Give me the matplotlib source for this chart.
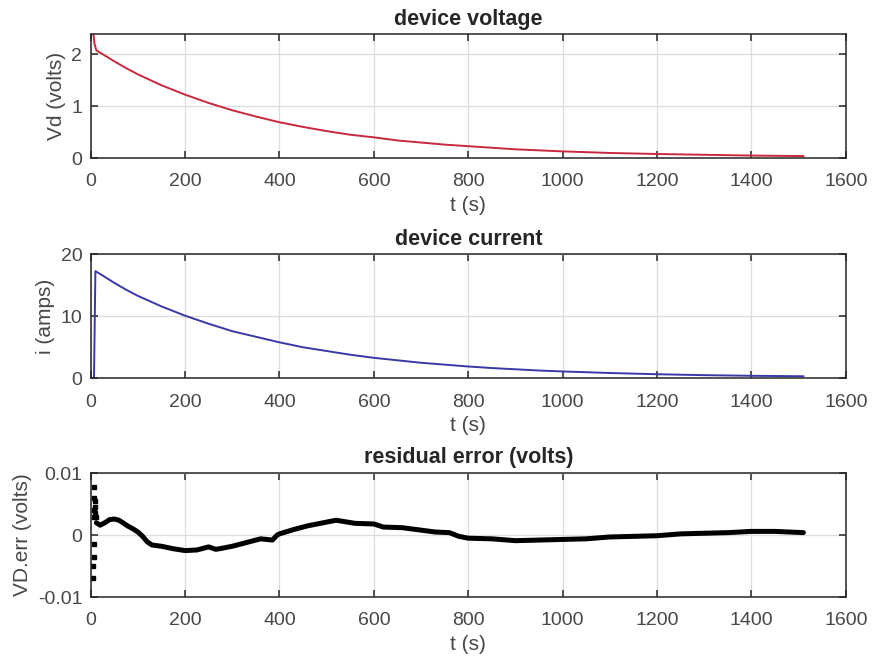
import matplotlib
matplotlib.use('Agg')
import matplotlib.pyplot as plt

##########
# Data
##########

t_v = [3, 5, 8, 12, 25, 50, 75, 100, 150, 200, 250, 300, 350, 400, 450, 500,
       550, 600, 650, 700, 750, 800, 850, 900, 950, 1000, 1100, 1200, 1300,
       1400, 1510]
vd = [2.6, 2.45, 2.2, 2.07, 2.00, 1.86, 1.73, 1.61, 1.40, 1.22, 1.06, 0.92,
      0.80, 0.69, 0.60, 0.52, 0.45, 0.40, 0.34, 0.30, 0.26, 0.23, 0.20, 0.17,
      0.15, 0.13, 0.10, 0.08, 0.065, 0.05, 0.04]

t_i = [0, 7, 10, 25, 50, 75, 100, 150, 200, 250, 300, 350, 400, 450, 500,
       550, 600, 650, 700, 750, 800, 850, 900, 950, 1000, 1100, 1200, 1300,
       1400, 1510]
cur = [0, 0, 17.3, 16.6, 15.4, 14.3, 13.3, 11.6, 10.1, 8.8, 7.6, 6.7, 5.8,
       5.0, 4.4, 3.8, 3.3, 2.9, 2.5, 2.2, 1.9, 1.65, 1.45, 1.25, 1.1, 0.85,
       0.65, 0.5, 0.4, 0.32]

t_r = [12, 20, 30, 40, 50, 60, 70, 80, 90, 100, 110, 120, 130, 150, 175, 200,
       225, 250, 265, 280, 300, 330, 360, 385, 395, 400, 430, 460, 500, 520,
       560, 600, 620, 660, 700, 730, 760, 780, 800, 850, 900, 950, 1000, 1050,
       1100, 1150, 1200, 1250, 1300, 1350, 1400, 1450, 1510]
err = [2.0, 1.6, 2.0, 2.5, 2.6, 2.4, 1.9, 1.4, 1.0, 0.5, -0.2, -1.1, -1.6,
       -1.8, -2.2, -2.5, -2.4, -1.9, -2.3, -2.1, -1.8, -1.2, -0.6, -0.8, 0.0,
       0.2, 0.9, 1.5, 2.1, 2.4, 1.9, 1.8, 1.3, 1.2, 0.8, 0.5, 0.4, -0.2, -0.5,
       -0.6, -0.9, -0.8, -0.7, -0.6, -0.3, -0.2, -0.1, 0.2, 0.3, 0.4, 0.6,
       0.6, 0.4]  # x 1e-3

t_e = [4, 5, 6, 6, 7, 7, 8, 8, 9, 10, 10, 11]
err_e = [-7, -5, -3.5, -1.4, 3, 4, 7.8, 6, 5.5, 4.5, 3.5, 3]  # x 1e-3

x_ticks = [0, 200, 400, 600, 800, 1000, 1200, 1400, 1600]

##########
# Style
##########

plt.rcParams['font.family'] = ['Liberation Sans', 'DejaVu Sans']
TXT = '#474747'
fig = plt.figure(figsize=(8.72, 6.59), dpi=100)

bottoms = [0.760, 0.426, 0.094]
h = 0.188
left, width = 0.104, 0.866


def style(ax, title, ylabel):
    ax.set_xlim(0, 1600)
    ax.set_xticks(x_ticks)
    ax.grid(True, color='#dcdcdc', linewidth=0.9)
    ax.set_axisbelow(True)
    ax.tick_params(direction='in', top=True, right=True, labelsize=14,
                   colors='#262626', labelcolor=TXT, length=5, width=1.1)
    ax.tick_params(axis='x', pad=11)
    ax.tick_params(axis='y', pad=6)
    for s in ax.spines.values():
        s.set_color('#262626')
        s.set_linewidth(1.1)
    ax.set_title(title, fontsize=15.5, fontweight='bold', color='#262626',
                 pad=7)
    ax.set_xlabel('t (s)', fontsize=15, color=TXT, labelpad=4)
    ax.set_ylabel(ylabel, fontsize=15, color=TXT, labelpad=4)


##########
# Plots
##########

ax1 = fig.add_axes([left, bottoms[0], width, h])
ax1.plot(t_v, vd, color='#c8283c', linewidth=1.4)
ax1.set_ylim(0, 2.38)
ax1.set_yticks([0, 1, 2])
style(ax1, 'device voltage', 'Vd (volts)')

ax2 = fig.add_axes([left, bottoms[1], width, h])
ax2.plot(t_i, cur, color='#3838a8', linewidth=1.4)
ax2.set_ylim(0, 20)
ax2.set_yticks([0, 10, 20])
style(ax2, 'device current', 'i (amps)')

ax3 = fig.add_axes([left, bottoms[2], width, h])
ax3.plot(t_r, [e * 1e-3 for e in err], color='black', linewidth=3.6,
         solid_capstyle='round', solid_joinstyle='round')
ax3.plot(t_e, [e * 1e-3 for e in err_e], 's', color='black', markersize=2.5)
ax3.set_ylim(-0.01, 0.01)
ax3.set_yticks([-0.01, 0, 0.01])
ax3.set_yticklabels(['-0.01', '0', '0.01'])
style(ax3, 'residual error (volts)', 'VD.err (volts)')

fig.savefig('out.png', dpi=100)
